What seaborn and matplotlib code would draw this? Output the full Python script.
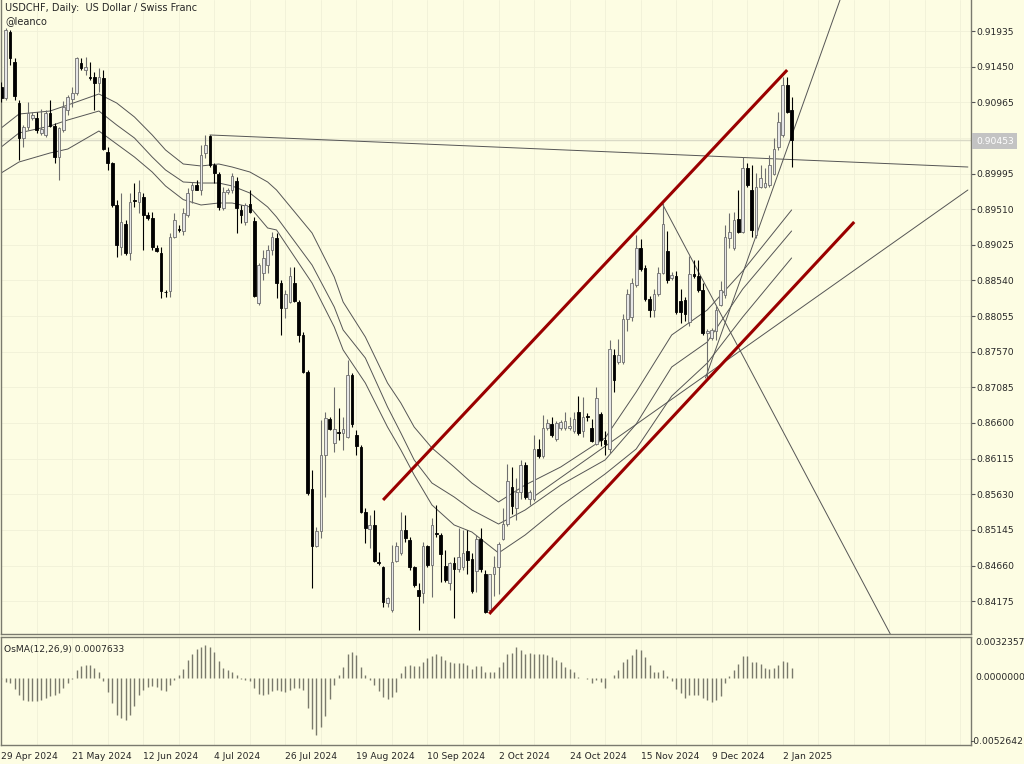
import numpy as np
import pandas as pd
import matplotlib
matplotlib.use("agg")
import matplotlib.pyplot as plt
import seaborn as sns

# ---- daily USDCHF bars, 29 Apr 2024 .. 6 Jan 2025 ----
opens = [0.91173, 0.91023, 0.91921, 0.91513, 0.90955, 0.90479, 0.90629, 0.90751, 0.90751, 0.90547,
         0.90520, 0.90819, 0.90642, 0.90220, 0.90588, 0.90860, 0.91010, 0.91091, 0.91500, 0.91404,
         0.91309, 0.91309, 0.91227, 0.91295, 0.90288, 0.90139, 0.89567, 0.88995, 0.89308, 0.88914,
         0.89635, 0.89608, 0.89676, 0.89431, 0.89390, 0.88982, 0.88914, 0.88383, 0.88397, 0.89131,
         0.89240, 0.89213, 0.89431, 0.89771, 0.89839, 0.89771, 0.90275, 0.90506, 0.90111, 0.89989,
         0.89526, 0.89744, 0.89771, 0.89894, 0.89499, 0.89336, 0.89581, 0.89349, 0.88233, 0.88642,
         0.88750, 0.88955, 0.89118, 0.88505, 0.88165, 0.88247, 0.88505, 0.88247, 0.87798, 0.87294,
         0.85702, 0.84926, 0.85130, 0.86165, 0.86654, 0.86328, 0.86477, 0.86464, 0.86409, 0.87253,
         0.86437, 0.86273, 0.85389, 0.85158, 0.85212, 0.84709, 0.84641, 0.84152, 0.84056, 0.84722,
         0.84831, 0.85144, 0.85008, 0.84641, 0.84328, 0.84288, 0.84926, 0.84668, 0.85103, 0.85076,
         0.84654, 0.84423, 0.84695, 0.84614, 0.84641, 0.84858, 0.84749, 0.84586, 0.85021, 0.84546,
         0.84056, 0.84546, 0.84641, 0.85021, 0.85225, 0.85729, 0.85443, 0.85661, 0.86029, 0.85565,
         0.85565, 0.86246, 0.86151, 0.86532, 0.86586, 0.86382, 0.86532, 0.86532, 0.86532, 0.86491,
         0.86750, 0.86491, 0.86695, 0.86532, 0.86314, 0.86722, 0.86369, 0.86246, 0.87525, 0.87430,
         0.87430, 0.88016, 0.88043, 0.88478, 0.88982, 0.88710, 0.88288, 0.88138, 0.88356, 0.88642,
         0.88941, 0.88574, 0.88601, 0.88261, 0.88274, 0.87975, 0.88628, 0.88601, 0.88410, 0.87825,
         0.87757, 0.87852, 0.88206, 0.88342, 0.89118, 0.88982, 0.89376, 0.89199, 0.90071, 0.89771,
         0.89159, 0.89812, 0.89812, 0.89839, 0.89989, 0.90356, 0.90520, 0.91200, 0.90860]
highs = [0.91241, 0.91976, 0.91949, 0.91568, 0.90996, 0.90656, 0.90969, 0.90833, 0.90833, 0.90874,
         0.90860, 0.90996, 0.90683, 0.90629, 0.90982, 0.91064, 0.91173, 0.91581, 0.91568, 0.91581,
         0.91513, 0.91377, 0.91432, 0.91404, 0.90356, 0.90152, 0.89635, 0.89730, 0.89363, 0.89730,
         0.89866, 0.89907, 0.89730, 0.89472, 0.89472, 0.89023, 0.88995, 0.88410, 0.89186, 0.89458,
         0.89295, 0.89526, 0.89798, 0.89880, 0.89907, 0.90384, 0.90520, 0.90520, 0.90139, 0.90016,
         0.89812, 0.89798, 0.90003, 0.89948, 0.89567, 0.89594, 0.89771, 0.89404, 0.88778, 0.88955,
         0.89023, 0.89199, 0.89186, 0.88546, 0.88410, 0.88723, 0.88723, 0.88274, 0.87839, 0.87321,
         0.85960, 0.85185, 0.86641, 0.86750, 0.86681, 0.87090, 0.86804, 0.86681, 0.87457, 0.87280,
         0.86505, 0.86301, 0.85443, 0.85348, 0.85416, 0.84844, 0.84650, 0.84233, 0.84940, 0.84981,
         0.85389, 0.85348, 0.85050, 0.84650, 0.84423, 0.84981, 0.84940, 0.85307, 0.85484, 0.85103,
         0.84872, 0.84709, 0.84777, 0.85171, 0.85144, 0.85144, 0.84831, 0.85076, 0.85171, 0.84600,
         0.84546, 0.84790, 0.84981, 0.85443, 0.86042, 0.86001, 0.85851, 0.86097, 0.86069, 0.85688,
         0.86437, 0.86382, 0.86709, 0.86654, 0.86681, 0.86627, 0.86641, 0.86750, 0.86681, 0.86750,
         0.86967, 0.86954, 0.86736, 0.86654, 0.87090, 0.86750, 0.86491, 0.87730, 0.87607, 0.87743,
         0.88083, 0.88424, 0.88574, 0.89159, 0.89104, 0.88750, 0.88329, 0.88424, 0.88723, 0.89594,
         0.89213, 0.88655, 0.88669, 0.88424, 0.88315, 0.88873, 0.88818, 0.88818, 0.88505, 0.87879,
         0.87893, 0.88192, 0.88533, 0.89295, 0.89458, 0.89472, 0.89771, 0.90220, 0.90139, 0.90111,
         0.90003, 0.90111, 0.90071, 0.90248, 0.90479, 0.90833, 0.91309, 0.91309, 0.91037]
lows = [0.90969, 0.90996, 0.91472, 0.90996, 0.90180, 0.90356, 0.90588, 0.90724, 0.90547, 0.90520,
        0.90492, 0.90629, 0.90139, 0.89907, 0.90561, 0.90792, 0.90901, 0.91064, 0.91404, 0.91336,
        0.91268, 0.90860, 0.91105, 0.90316, 0.90044, 0.89540, 0.88859, 0.88886, 0.88886, 0.88818,
        0.89540, 0.89458, 0.88955, 0.89363, 0.88955, 0.88927, 0.88301, 0.88315, 0.88315, 0.89118,
        0.89199, 0.89159, 0.89404, 0.89594, 0.89771, 0.89703, 0.90207, 0.90084, 0.89866, 0.89499,
        0.89499, 0.89717, 0.89730, 0.89186, 0.89322, 0.89295, 0.89458, 0.88315, 0.88206, 0.88546,
        0.88642, 0.88886, 0.88301, 0.87798, 0.88029, 0.88233, 0.88247, 0.87702, 0.87280, 0.85620,
        0.84356, 0.84913, 0.85035, 0.85593, 0.86505, 0.86205, 0.86369, 0.86233, 0.86396, 0.86545,
        0.86165, 0.85375, 0.84967, 0.84899, 0.84709, 0.84668, 0.84097, 0.84097, 0.84029, 0.84709,
        0.84804, 0.84981, 0.84600, 0.84369, 0.83784, 0.84152, 0.84641, 0.84233, 0.85049, 0.84437,
        0.84437, 0.84328, 0.83948, 0.84573, 0.84600, 0.84546, 0.84288, 0.84301, 0.84573, 0.84016,
        0.84002, 0.84247, 0.84274, 0.85008, 0.85198, 0.85362, 0.85280, 0.85565, 0.85565, 0.85484,
        0.85538, 0.86124, 0.86124, 0.86505, 0.86409, 0.86355, 0.86505, 0.86505, 0.86505, 0.86464,
        0.86437, 0.86409, 0.86627, 0.86341, 0.86301, 0.86287, 0.86165, 0.86192, 0.87022, 0.87403,
        0.87403, 0.87852, 0.87988, 0.88451, 0.88669, 0.88261, 0.88043, 0.88043, 0.88329, 0.88628,
        0.88505, 0.88546, 0.88083, 0.87961, 0.87988, 0.87920, 0.88574, 0.88383, 0.87798, 0.87212,
        0.87730, 0.87730, 0.88192, 0.88301, 0.88982, 0.88955, 0.89186, 0.89186, 0.89812, 0.89131,
        0.89118, 0.89798, 0.89798, 0.89812, 0.89976, 0.90316, 0.90492, 0.90819, 0.90084]
closes = [0.91023, 0.91949, 0.91568, 0.91050, 0.90479, 0.90629, 0.90819, 0.90792, 0.90588, 0.90601,
          0.90819, 0.90642, 0.90220, 0.90615, 0.90901, 0.91037, 0.91091, 0.91568, 0.91432, 0.91445,
          0.91295, 0.91227, 0.91309, 0.90329, 0.90139, 0.89567, 0.89023, 0.89336, 0.88914, 0.89608,
          0.89621, 0.89744, 0.89431, 0.89390, 0.88995, 0.88941, 0.88397, 0.88376, 0.89131, 0.89363,
          0.89227, 0.89458, 0.89730, 0.89839, 0.89771, 0.90248, 0.90384, 0.90111, 0.90003, 0.89540,
          0.89744, 0.89771, 0.89962, 0.89526, 0.89431, 0.89567, 0.89472, 0.88329, 0.88750, 0.88846,
          0.88955, 0.89131, 0.88505, 0.88165, 0.88356, 0.88601, 0.88261, 0.87798, 0.87294, 0.85647,
          0.84926, 0.85130, 0.86165, 0.86668, 0.86518, 0.86518, 0.86470, 0.86518, 0.87253, 0.86586,
          0.86287, 0.85389, 0.85171, 0.85212, 0.84722, 0.84700, 0.84165, 0.84220, 0.84709, 0.84926,
          0.85144, 0.85035, 0.84641, 0.84396, 0.84247, 0.84926, 0.84668, 0.85212, 0.85095, 0.84817,
          0.84464, 0.84695, 0.84614, 0.84777, 0.84831, 0.84736, 0.84315, 0.85021, 0.84614, 0.84029,
          0.84546, 0.84641, 0.84953, 0.85225, 0.85810, 0.85470, 0.85661, 0.86029, 0.85593, 0.85661,
          0.86246, 0.86151, 0.86532, 0.86600, 0.86437, 0.86600, 0.86613, 0.86627, 0.86559, 0.86654,
          0.86464, 0.86681, 0.86688, 0.86355, 0.86940, 0.86369, 0.86314, 0.87607, 0.87185, 0.87525,
          0.88016, 0.88356, 0.88505, 0.88982, 0.88696, 0.88288, 0.88138, 0.88356, 0.88642, 0.89308,
          0.88546, 0.88614, 0.88111, 0.88111, 0.88083, 0.88628, 0.88601, 0.88410, 0.87825, 0.87852,
          0.87866, 0.88138, 0.88410, 0.89131, 0.89199, 0.89363, 0.89199, 0.90071, 0.89839, 0.89227,
          0.89812, 0.89935, 0.89866, 0.90111, 0.90329, 0.90697, 0.91200, 0.90833, 0.90453]

# OsMA(12,26,9) histogram, in units of 1e-4
osma = [-0.5, -3.1, -3.7, -8.4, -13.6, -17.6, -18.4, -18.4, -18.4, -17.6,
        -15.7, -14.2, -13.6, -11.5, -7.9, -3.7, -0.5, 6.0, 9.4, 10.5,
        10.0, 7.9, 5.2, -2.6, -11.0, -19.4, -28.9, -31.5, -33.3, -29.4,
        -22.0, -13.6, -9.7, -7.1, -6.3, -7.1, -9.7, -10.5, -5.8, -1.8,
        2.6, 7.3, 13.9, 19.1, 22.6, 24.4, 26.2, 24.4, 20.5, 13.1,
        7.9, 6.0, 4.7, 2.6, -0.5, -1.8, -2.6, -7.9, -12.3, -13.6,
        -12.3, -10.5, -9.7, -10.5, -11.0, -9.7, -7.9, -7.9, -9.7, -23.6,
        -39.9, -44.6, -38.6, -29.9, -16.8, -5.8, 2.1, 8.7, 19.1, 20.5,
        17.8, 8.7, 2.1, -1.8, -5.8, -10.5, -15.0, -16.8, -15.0, -11.0,
        3.9, 9.7, 10.5, 9.7, 9.2, 12.3, 15.7, 17.6, 19.1, 17.6,
        13.9, 12.3, 11.8, 11.8, 11.8, 10.5, 7.1, 9.2, 9.7, 4.5,
        4.5, 5.2, 8.7, 12.3, 19.1, 19.7, 24.4, 21.8, 19.1, 19.7,
        19.1, 19.1, 19.1, 18.4, 16.5, 14.4, 12.3, 8.7, 7.1, 4.5,
        0.8, 0.3, -0.8, -3.9, -1.8, -3.4, -7.9, 0.3, 2.6, 6.0,
        12.3, 15.0, 18.4, 22.8, 22.3, 16.5, 10.5, 5.2, 4.5, 6.0,
        1.3, -2.6, -8.7, -11.8, -15.7, -13.1, -13.1, -13.1, -15.7, -17.6,
        -19.1, -17.0, -13.9, -3.9, 1.8, 6.6, 11.3, 17.6, 17.6, 12.3,
        12.3, 11.3, 7.9, 7.1, 7.9, 10.5, 13.1, 12.3, 7.6]

# envelope lines (bar index, upper / middle / lower price)
env_bar = [0, 4, 11, 15, 22, 26, 30, 34, 37, 41, 45, 49, 52, 56, 60, 62, 70, 75, 77, 82,
           87, 90, 93, 97, 102, 106, 112, 118, 126, 136, 143, 151, 159, 167, 178]
env_up = [0.90615, 0.90805, 0.90846, 0.90928, 0.91078, 0.90955, 0.90765, 0.90520, 0.90316, 0.90125,
          0.90098, 0.90125, 0.90084, 0.90016, 0.89880, 0.89771, 0.89186, 0.88587, 0.88247, 0.87771,
          0.87144, 0.86872, 0.86545, 0.86260, 0.86001, 0.85783, 0.85525, 0.85756, 0.86001, 0.86396,
          0.87022, 0.87798, 0.88138, 0.88669, 0.89499]
env_mid = [0.90356, 0.90547, 0.90642, 0.90724, 0.90846, 0.90656, 0.90479, 0.90220, 0.90044, 0.89880,
           0.89866, 0.89866, 0.89826, 0.89730, 0.89540, 0.89404, 0.88750, 0.88179, 0.87866, 0.87485,
           0.86818, 0.86464, 0.86097, 0.85783, 0.85593, 0.85416, 0.85225, 0.85416, 0.85756, 0.86097,
           0.86586, 0.87362, 0.87702, 0.88424, 0.89213]
env_lo = [0.90003, 0.90152, 0.90275, 0.90329, 0.90574, 0.90397, 0.90220, 0.90016, 0.89826, 0.89640,
          0.89567, 0.89594, 0.89594, 0.89540, 0.89254, 0.89227, 0.88505, 0.87907, 0.87594, 0.87144,
          0.86545, 0.86233, 0.85892, 0.85484, 0.85212, 0.85116, 0.84831, 0.85076, 0.85470, 0.85906,
          0.86246, 0.86967, 0.87416, 0.88043, 0.88846]

# hand-drawn lines: (bar, price) anchors
flat_line = ([47, 217.7], [0.90520, 0.90084])
down_ray = ([148.8, 200.2], [0.89594, 0.83731])
rise_ray = ([120.0, 217.7], [0.85600, 0.89771])
steep_ray = ([158.6, 188.9], [0.87212, 0.92357])
chan_top = ([86.0, 177.0], [0.85552, 0.91404])
chan_bot = ([109.9, 192.1], [0.84002, 0.89336])

last_price = 0.90453
price_ticks = [0.91935, 0.91450, 0.90965, 0.89995, 0.89510, 0.89025, 0.88540, 0.88055,
               0.87570, 0.87085, 0.86600, 0.86115, 0.85630, 0.85145, 0.84660, 0.84175]
date_labels = ["29 Apr 2024", "21 May 2024", "12 Jun 2024", "4 Jul 2024", "26 Jul 2024",
               "19 Aug 2024", "10 Sep 2024", "2 Oct 2024", "24 Oct 2024", "15 Nov 2024",
               "9 Dec 2024", "2 Jan 2025"]

BG = "#fdfde3"
sns.set_style("white")
plt.rcParams["font.family"] = ["DejaVu Sans"]

fig = plt.figure(figsize=(10.24, 7.64), dpi=100, facecolor=BG)
W, H = 1024.0, 764.0
ax = fig.add_axes([1 / W, 1 - 634 / H, 970 / W, 634 / H], facecolor=BG)
ax2 = fig.add_axes([1 / W, 1 - 745 / H, 970 / W, 108 / H], facecolor=BG)

n = len(closes)
idx = np.arange(n)
o, h, l, c = map(np.array, (opens, highs, lows, closes))
up = c >= o

xmin, xmax = -0.05, 218.4
# faint grid
for k in range(0, 220, 8):
    ax.axvline(k, color="#f0f0d8", lw=0.6, zorder=0)
    ax2.axvline(k, color="#f0f0d8", lw=0.6, zorder=0)
for p in price_ticks + [0.90480]:
    ax.axhline(p, color="#f0f0d8", lw=0.6, zorder=0)

ax.axhline(last_price, color="#d9d9c6", lw=1.0, zorder=1)

# envelope lines + drawn lines with seaborn
env = pd.DataFrame({"bar": env_bar, "up": env_up, "mid": env_mid, "lo": env_lo})
for col in ["up", "mid", "lo"]:
    sns.lineplot(data=env, x="bar", y=col, ax=ax, color="#555555", lw=0.7, zorder=2)
for xs, ys in [flat_line, down_ray, rise_ray, steep_ray]:
    sns.lineplot(x=xs, y=ys, ax=ax, color="#555555", lw=0.7, zorder=2)
for xs, ys in [chan_top, chan_bot]:
    sns.lineplot(x=xs, y=ys, ax=ax, color="#9a0000", lw=2.2, zorder=4,
                 solid_capstyle="butt")

# candles
ax.vlines(idx[up], l[up], h[up], color="#6e6e6e", lw=0.8, zorder=3)
ax.vlines(idx[~up], l[~up], h[~up], color="#000000", lw=0.8, zorder=3)
body = np.maximum(np.abs(c - o), 0.00003)
ax.bar(idx[up], body[up], bottom=np.minimum(o, c)[up], width=0.6,
       color="#e6e6e6", edgecolor="#6e6e6e", lw=0.6, zorder=3)
ax.bar(idx[~up], body[~up], bottom=np.minimum(o, c)[~up], width=0.6,
       color="#000000", edgecolor="#000000", lw=0.6, zorder=3)

ax.set_xlim(xmin, xmax)
ax.set_ylim(0.83728, 0.92357)
ax.set_xticks([])
ax.yaxis.tick_right()
ax.set_yticks(price_ticks)
ax.set_yticklabels([f"{p:.5f}" for p in price_ticks])
ax.tick_params(axis="y", length=3, width=0.8, pad=1, labelsize=6.6, color="#555555")
ax.set_xlabel("")
ax.set_ylabel("")

# OsMA panel
osma_v = np.array(osma) * 1e-4
ax2.vlines(idx, 0, osma_v, color="#7a7a6c", lw=1.0)
ax2.set_xlim(xmin, xmax)
ax2.set_ylim(-0.0052642, 0.0032357)
ax2.set_yticks([])
ax2.set_xticks(np.arange(0, 177, 16))
ax2.set_xticklabels(date_labels, ha="left")
ax2.tick_params(axis="x", length=4, width=0.8, pad=1, labelsize=6.6, color="#555555")
ax2.text(0.003, 0.93, "OsMA(12,26,9) 0.0007633", transform=ax2.transAxes,
         fontsize=6.6, va="top", ha="left")

for a in (ax, ax2):
    for s in a.spines.values():
        s.set_color("#7a7a6e")
        s.set_linewidth(1.0)
    a.spines["top"].set_visible(a is ax2)

# right-hand labels of the OsMA panel
fig.text(975 / W, 1 - 638 / H, "0.0032357", fontsize=6.6, va="top", ha="left")
fig.text(975 / W, 1 - 678 / H, "0.0000000", fontsize=6.6, va="center", ha="left")
fig.text(971 / W, 1 - 742 / H, "-0.0052642", fontsize=6.6, va="center", ha="left")

# last price tag
fig.text(976 / W, 1 - 141 / H, "0.90453", fontsize=6.6, va="center", ha="left",
         color="white", bbox=dict(boxstyle="square,pad=0.4", fc="#c3c3c3", ec="none"))

fig.text(5 / W, 1 - 8 / H, "USDCHF, Daily:  US Dollar / Swiss Franc", fontsize=7.0,
         va="center", ha="left")
fig.text(5 / W, 1 - 21 / H, "@leanco", fontsize=7.0, va="center", ha="left")

fig.savefig("out.png", dpi=100, facecolor=BG)
